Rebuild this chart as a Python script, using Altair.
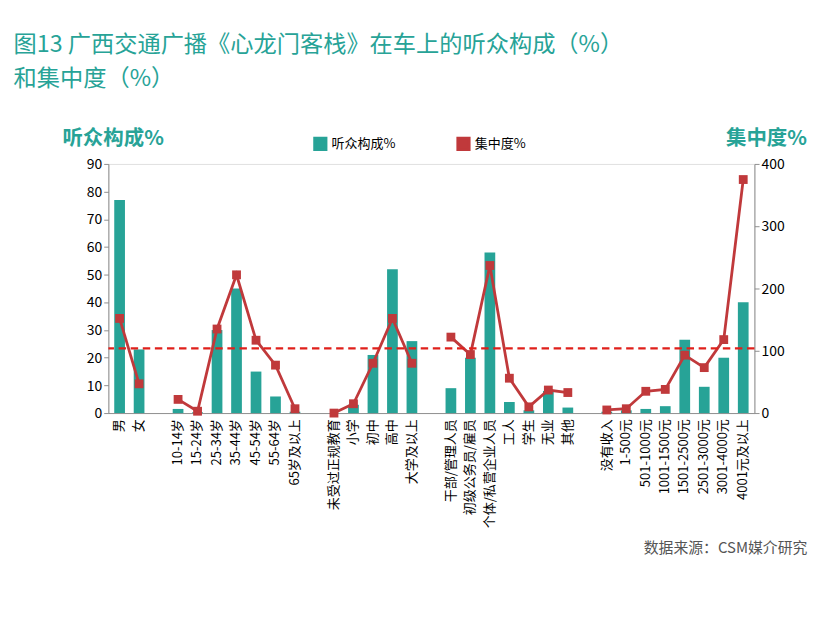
import altair as alt
import pandas as pd

groups = [
    ["男", "女"],
    ["10-14岁", "15-24岁", "25-34岁", "35-44岁", "45-54岁", "55-64岁", "65岁及以上"],
    ["未受过正规教育", "小学", "初中", "高中", "大学及以上"],
    ["干部/管理人员", "初级公务员/雇员", "个体/私营企业人员", "工人", "学生", "无业", "其他"],
    ["没有收入", "1-500元", "501-1000元", "1001-1500元", "1501-2500元", "2501-3000元", "3001-4000元", "4001元及以上"],
]
share = [
    [77, 23],
    [1.5, 0.3, 30, 45, 15, 6, 0.5],
    [0, 3, 21, 52, 26],
    [9, 20, 58, 4, 1, 8, 2],
    [0.5, 1, 1.5, 2.5, 26.5, 9.5, 20, 40],
]
conc = [
    [152, 47],
    [22, 3, 135, 222, 117, 77, 7],
    [0, 15, 80, 152, 80],
    [122, 94, 237, 56, 10, 37, 33],
    [5, 7, 35, 38, 93, 73, 118, 375],
]
avg_line = 104

TEAL = "#27a397"
RED = "#c0393b"

rows, order = [], []
for gi, (cats, s, c) in enumerate(zip(groups, share, conc)):
    if gi > 0:
        order.append(" " * gi)
    for k, v, w in zip(cats, s, c):
        rows.append({"cat": k, "share": v, "conc": w, "grp": gi,
                     "s1": "听众构成%", "s2": "集中度%"})
        order.append(k)
df = pd.DataFrame(rows)

color = alt.Color("s:N", scale=alt.Scale(domain=["听众构成%", "集中度%"], range=[TEAL, RED]),
                  legend=alt.Legend(orient="none", legendX=220, legendY=-30, title=None,
                                    labelFontSize=14, symbolSize=150, columnPadding=60,
                                    direction="horizontal", symbolStrokeWidth=3))

xenc = alt.X("cat:N", sort=order, scale=alt.Scale(domain=order, paddingInner=0.45, paddingOuter=0.3),
             axis=alt.Axis(title=None, labelAngle=270, labelFontSize=14, ticks=False, labelPadding=6))

base = alt.Chart(df)
bars = base.transform_calculate(s="datum.s1").mark_bar(color=TEAL).encode(
    x=xenc,
    y=alt.Y("share:Q", scale=alt.Scale(domain=[0, 90]),
            axis=alt.Axis(values=list(range(0, 91, 10)), title="听众构成%", titleAngle=0,
                          titleAlign="left", titleX=-50, titleY=-16, titleFontSize=22,
                          titleColor=TEAL, titleFontWeight="bold", labelFontSize=15,
                          grid=False, domainColor="#888")),
    color=color,
)
line = base.transform_calculate(s="datum.s2").mark_line(
    strokeWidth=3, point=alt.OverlayMarkDef(shape="square", size=90, filled=True, color=RED)
).encode(
    x=alt.X("cat:N", sort=order),
    y=alt.Y("conc:Q", scale=alt.Scale(domain=[0, 400]),
            axis=alt.Axis(values=list(range(0, 401, 50)), orient="right", title="集中度%",
                          titleAngle=0, titleAlign="right", titleX=56, titleY=-16,
                          titleFontSize=22, titleColor=TEAL, titleFontWeight="bold",
                          labelFontSize=15, grid=False, domainColor="#888")),
    detail="grp:N",
    color=color,
)
rule = alt.Chart(pd.DataFrame({"v": [avg_line]})).mark_rule(
    color="#e0201b", strokeDash=[8, 5], strokeWidth=2.5
).encode(y=alt.Y("v:Q", scale=alt.Scale(domain=[0, 400])))

main = alt.layer(bars, alt.layer(line, rule)).resolve_scale(y="independent").properties(
    width=695, height=268,
    title=alt.TitleParams(["图13  广西交通广播《心龙门客栈》在车上的听众构成（%）", "和集中度（%）"],
                          anchor="start", color=TEAL, fontSize=25, fontWeight="normal",
                          offset=40, dx=-52, lineHeight=36),
)

src = alt.Chart(pd.DataFrame({"t": ["数据来源：CSM媒介研究"]})).mark_text(
    align="right", fontSize=16, color="#555"
).encode(text="t:N", x=alt.value(752), y=alt.value(12)).properties(
    width=752, height=22, view=alt.ViewConfig(stroke="transparent", fill="transparent"))

chart = alt.vconcat(main, src, spacing=8).configure_view(
    fill="white", stroke="#999"
).configure(font="Noto Sans CJK SC", background="white")

chart.save("out.html", embed_options={"renderer": "svg", "actions": False})
